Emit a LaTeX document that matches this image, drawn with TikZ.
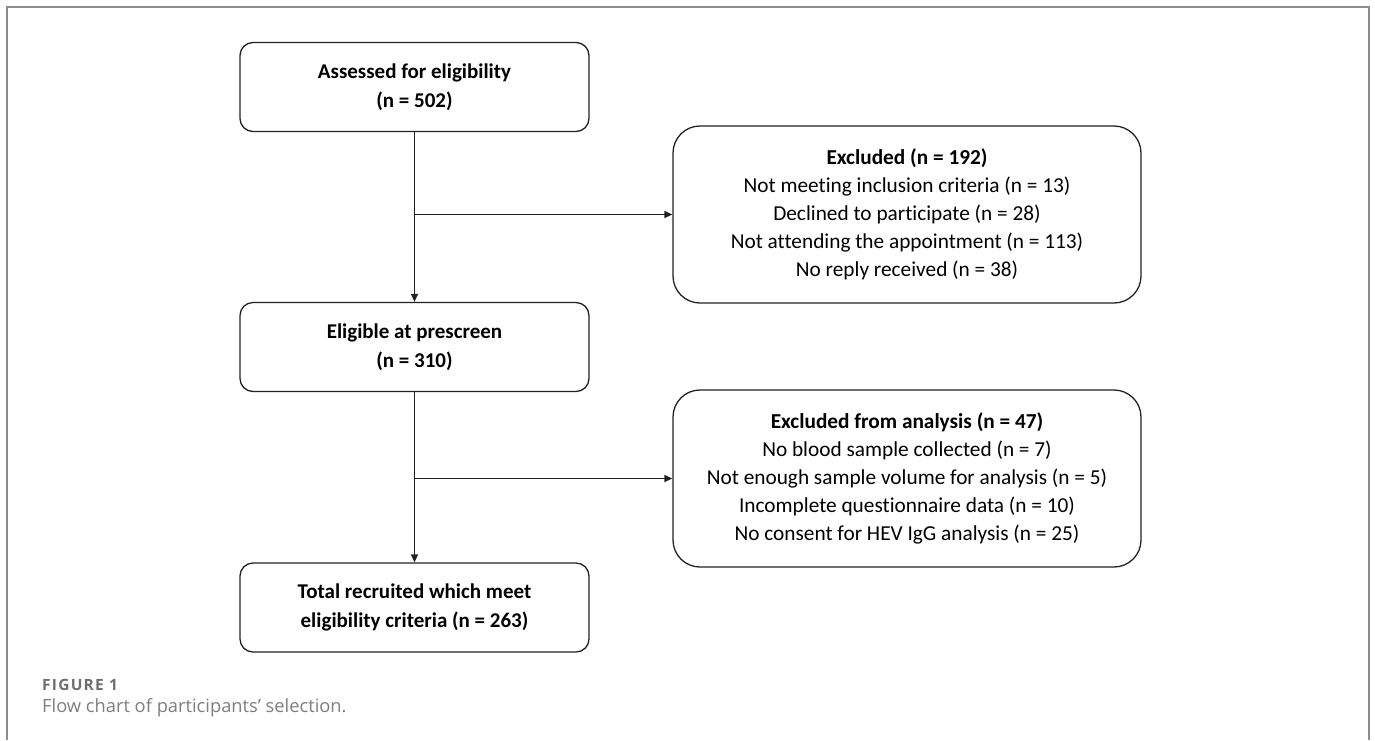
\documentclass[tikz,border=0pt]{standalone}
\usepackage{fontspec}
\setmainfont{Carlito}[Ligatures=NoCommon]
\newfontfamily\capfont{Open Sans}
\newfontfamily\capbold{Open Sans}[LetterSpace=8]
\usetikzlibrary{arrows.meta}
\definecolor{framegray}{HTML}{8C8C8C}
\definecolor{capgray}{HTML}{6E6E6E}
\definecolor{capgraylt}{HTML}{7E7E7E}
\definecolor{linedark}{HTML}{222222}
\begin{document}
\begin{tikzpicture}[x=1pt,y=-1pt,
  mainbox/.style={draw=linedark,line width=1.3pt,rounded corners=13pt,minimum width=349pt,minimum height=89pt,align=center,inner sep=0pt,
    font=\fontsize{21}{29}\selectfont\bfseries},
  exbox/.style={draw=linedark,line width=1.3pt,rounded corners=27pt,minimum width=468pt,minimum height=177pt,align=center,inner sep=0pt,
    font=\fontsize{21.3}{28}\selectfont},
  flow/.style={draw=linedark,line width=1.3pt},
  arr/.style={flow,-{Triangle[length=8pt,width=7pt]}}]
\useasboundingbox (0,0) rectangle (1375,740);
\draw[framegray,line width=2pt] (7,740) -- (7,7) -- (1369,7) -- (1369,740);

\node[mainbox] (a) at (414.5,87) {Assessed for eligibility\\(n = 502)};
\node[mainbox] (b) at (414.5,347) {Eligible at prescreen\\(n = 310)};
\node[mainbox] (c) at (414.5,607.5) {Total recruited which meet\\eligibility criteria (n = 263)};

\node[exbox] (e1) at (907,214.5) {\textbf{Excluded (n = 192)}\\Not meeting inclusion criteria (n = 13)\\Declined to participate (n = 28)\\Not attending the appointment (n = 113)\\No reply received (n = 38)};
\node[exbox] (e2) at (907,478.5) {\textbf{Excluded from analysis (n = 47)}\\No blood sample collected (n = 7)\\Not enough sample volume for analysis (n = 5)\\Incomplete questionnaire data (n = 10)\\No consent for HEV IgG analysis (n = 25)};

\coordinate (j1) at (a.south |- e1.west);
\coordinate (j2) at (b.south |- e2.west);
\draw[arr] (a.south) -- (b.north);
\draw[arr] (j1) -- (e1.west);
\draw[arr] (b.south) -- (c.north);
\draw[arr] (j2) -- (e2.west);

\node[anchor=base west,inner sep=0pt,text=capgray,font=\capbold\bfseries\fontsize{15.5}{18}\selectfont] (f1) at (42,690) {FIGURE 1};
\node[anchor=base west,inner sep=0pt,text=capgraylt,font=\capfont\fontsize{18.3}{22}\selectfont] (f2) at (42,712) {Flow chart of participants’ selection.};
\end{tikzpicture}
\end{document}
